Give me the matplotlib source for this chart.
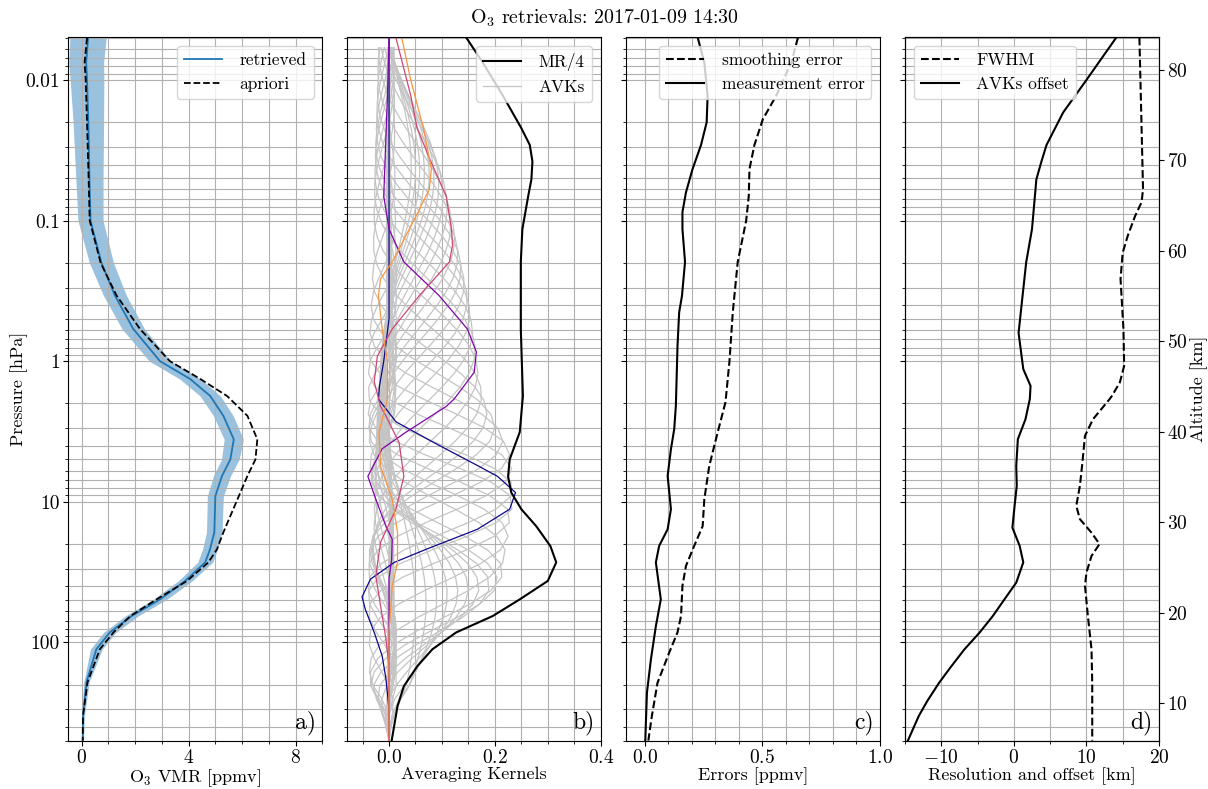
import numpy as np
import matplotlib
matplotlib.use("Agg")
import matplotlib.pyplot as plt
from matplotlib.ticker import MultipleLocator, FuncFormatter, NullFormatter, LogLocator

plt.rcParams['font.family'] = 'serif'
plt.rcParams['font.serif'] = ['cmr10']
plt.rcParams['mathtext.fontset'] = 'cm'
plt.rcParams['axes.formatter.use_mathtext'] = True

# ---- panel a: ozone profile (pressure in hPa, VMR in ppmv)
p_o3 = [0.005, 0.0075, 0.01, 0.02, 0.05, 0.1, 0.2, 0.34, 0.59, 1.0, 1.34, 1.77, 2.45, 3.6,
        5.0, 6.55, 9.1, 16.5, 21.8, 27, 36.6, 49.5, 65, 85, 112, 192, 334, 500]
o3_retrieved = [0.24, 0.17, 0.2, 0.25, 0.29, 0.33, 0.74, 1.24, 1.93, 2.93, 4.06, 4.81, 5.3, 5.69,
                5.56, 5.25, 5.0, 4.96, 4.8, 4.62, 3.87, 2.93, 1.87, 1.05, 0.55, 0.18, 0.05, 0.04]
o3_error = [0.68, 0.65, 0.63, 0.57, 0.51, 0.47, 0.45, 0.43, 0.42, 0.4, 0.39, 0.38, 0.37, 0.36,
            0.33, 0.32, 0.3, 0.29, 0.28, 0.28, 0.26, 0.25, 0.24, 0.23, 0.22, 0.1, 0.05, 0.03]
o3_apriori = [0.2, 0.11, 0.15, 0.2, 0.26, 0.3, 0.71, 1.3, 2.18, 3.3, 4.44, 5.44, 6.2, 6.57,
              6.5, 6.2, 5.88, 5.3, 5.06, 4.74, 3.94, 2.8, 1.82, 1.19, 0.68, 0.22, 0.05, 0.04]

# ---- panel b: measurement response / 4
p_mr = [0.005, 0.0075, 0.0129, 0.022, 0.029, 0.038, 0.051, 0.067, 0.115, 0.197, 0.59, 1.77,
        3.2, 5.0, 6.6, 8.6, 11.3, 14.9, 20.7, 27, 36.6, 49.5, 65, 85, 112, 147, 205, 285, 500]
mr_quarter = [0.146, 0.177, 0.215, 0.25, 0.266, 0.271, 0.269, 0.263, 0.252, 0.249, 0.249, 0.253,
              0.247, 0.228, 0.225, 0.231, 0.25, 0.278, 0.305, 0.316, 0.3, 0.247, 0.196, 0.127,
              0.082, 0.054, 0.028, 0.016, 0.005]

# highlighted kernels
p_avk_navy = [0.005, 0.1, 0.5, 1.0, 1.5, 1.86, 2.7, 3.8, 5.6, 6.6, 8.6, 11.3, 15.7, 21.8, 27,
              35.5, 47.5, 58, 85, 125, 180, 300, 500]
avk_navy = [0.0, 0.0, 0.0, -0.01, -0.018, -0.02, 0.013, 0.085, 0.17, 0.205, 0.239, 0.228, 0.167,
            0.07, 0.01, -0.035, -0.051, -0.045, -0.028, -0.013, -0.006, 0.0, 0.0]
p_avk_purple = [0.005, 0.013, 0.067, 0.115, 0.197, 0.343, 0.59, 0.86, 1.2, 1.86, 2.1, 3.2, 4.2,
                6.6, 9.6, 14.9, 18.5, 25.7, 35, 500]
avk_purple = [0.0, -0.003, -0.01, 0.0, 0.028, 0.095, 0.148, 0.165, 0.161, 0.123, 0.108, 0.032,
              -0.013, -0.04, -0.025, -0.006, 0.006, 0.005, 0.0, 0.0]
p_avk_crimson = [0.005, 0.0129, 0.022, 0.038, 0.067, 0.115, 0.15, 0.197, 0.343, 0.59, 0.92, 1.4,
                 2.1, 2.45, 3.8, 6.6, 11.3, 19.4, 33.7, 55, 94, 147, 500]
avk_crimson = [0.013, 0.041, 0.053, 0.079, 0.108, 0.118, 0.12, 0.114, 0.057, 0.006, -0.022, -0.028,
               -0.016, -0.006, 0.019, 0.028, 0.013, -0.016, -0.025, -0.016, -0.006, 0.0, 0.0]
p_avk_orange = [0.005, 0.01, 0.022, 0.043, 0.06, 0.087, 0.151, 0.197, 0.26, 0.343, 0.59, 1.0,
                1.86, 3.2, 5.6, 9.6, 16.5, 27, 40, 85, 500]
avk_orange = [0.024, 0.041, 0.065, 0.08, 0.076, 0.055, 0.022, 0.006, -0.016, -0.02, -0.013, -0.003,
              -0.003, -0.019, -0.016, 0.006, 0.016, 0.016, 0.006, 0.0, 0.0]

# remaining kernels: peak altitude [km], peak value, FWHM [km] read from the envelope
avk_peak_km = [20.5, 21, 21.5, 22, 22.3, 22.6, 22.8, 23, 23.5, 24.5, 26.5, 28.5, 30.5, 32, 33.6,
               35.7, 37.5, 39, 40.5, 42, 44, 46.5, 49, 51, 53, 54.6, 56.3, 58, 59.5, 61.3, 63,
               64.8, 66, 67.2, 67.9, 68.3, 68.6, 68.8, 69, 69.3]
avk_amp = [0.05, 0.07, 0.09, 0.11, 0.13, 0.15, 0.17, 0.19, 0.205, 0.215, 0.22, 0.225, 0.23, 0.235,
           0.235, 0.232, 0.228, 0.215, 0.2, 0.185, 0.175, 0.168, 0.163, 0.158, 0.153, 0.148,
           0.142, 0.136, 0.13, 0.124, 0.117, 0.11, 0.102, 0.094, 0.085, 0.076, 0.067, 0.058,
           0.05, 0.042]
avk_fwhm = [22, 20, 18, 16, 14, 12.5, 11.5, 10.5, 10, 10.2, 11, 10, 9, 8.8, 9.2, 9.5, 9.8, 10.5,
            11.5, 13, 14.5, 15, 15.2, 15.1, 15, 14.8, 14.8, 15, 15.4, 16, 16.8, 17.5, 17.8, 17.8,
            17.6, 17.5, 17.4, 17.3, 17.3, 17.3]

# ---- panel c: errors [ppmv]
p_meas = [0.005, 0.0075, 0.0129, 0.02, 0.029, 0.043, 0.063, 0.087, 0.115, 0.197, 0.343, 0.45,
          0.78, 2.08, 3.05, 4.23, 6.55, 11.3, 15.7, 20.6, 27, 49.5, 76.7, 132, 228, 500]
err_meas = [0.225, 0.253, 0.267, 0.263, 0.239, 0.203, 0.175, 0.16, 0.16, 0.171, 0.158, 0.146,
            0.139, 0.132, 0.125, 0.111, 0.097, 0.111, 0.097, 0.061, 0.047, 0.068, 0.047, 0.026,
            0.009, 0.002]
p_smooth = [0.005, 0.0075, 0.0129, 0.019, 0.029, 0.043, 0.067, 0.1, 0.197, 0.45, 1.0, 1.96, 3.2,
            5.56, 9.6, 14.9, 20.6, 28.6, 39.6, 65, 85, 118, 194, 334, 500]
err_smooth = [0.651, 0.623, 0.559, 0.502, 0.466, 0.445, 0.442, 0.431, 0.395, 0.374, 0.36, 0.343,
              0.31, 0.274, 0.253, 0.246, 0.21, 0.175, 0.16, 0.154, 0.139, 0.104, 0.054, 0.03,
              0.015]

# ---- panel d: resolution and offset [km]
p_fwhm = [0.005, 0.022, 0.06, 0.074, 0.093, 0.128, 0.169, 0.26, 0.59, 1.08, 1.42, 1.77, 1.86,
          2.59, 3.4, 5.56, 7.7, 10.7, 13.3, 16.6, 20, 24.3, 32, 39.6, 65, 112, 194, 500]
fwhm = [17.3, 17.6, 17.8, 17.6, 16.7, 15.7, 15.0, 14.7, 15.1, 15.2, 14.6, 13.5, 13.2, 10.9, 9.8,
        9.4, 9.1, 8.6, 9.1, 10.7, 11.8, 10.7, 10.0, 9.8, 10.2, 10.7, 10.8, 10.8]
p_offset = [0.005, 0.01, 0.017, 0.029, 0.038, 0.051, 0.067, 0.115, 0.198, 0.343, 0.63, 1.14, 1.5,
            1.86, 2.59, 3.59, 5.56, 7.7, 10.7, 15.3, 20.6, 27, 37.6, 49.5, 65, 85, 112, 150, 194,
            260, 334, 500]
avk_offset = [14.1, 10.0, 6.8, 4.5, 3.8, 3.1, 2.9, 2.5, 1.7, 1.2, 0.65, 1.3, 2.3, 2.2, 1.6, 0.55,
              0.33, 0.4, 0.1, -0.2, 0.8, 1.3, 0.33, -1.3, -2.9, -4.7, -6.8, -8.7, -10.3, -11.9,
              -13.1, -14.6]

TICK_FS = 14
LABEL_FS = 13
LEGEND_FS = 12.5

fig = plt.figure(figsize=(12.08, 7.89), dpi=100)
W, H = 1208.0, 789.0
bottom, top = 740.7, 37.3
lefts = [68.3, 346.7, 626.0, 905.0]
width = 254.0

axes = []
for i, l in enumerate(lefts):
    rect = [l / W, 1 - bottom / H, width / W, (bottom - top) / H]
    if i == 0:
        ax = fig.add_axes(rect)
    else:
        ax = fig.add_axes(rect, sharey=axes[0])
    axes.append(ax)
ax1, ax2, ax3, ax4 = axes

grid_kw = dict(color='#b0b0b0', lw=0.8)
leg_kw = dict(fontsize=LEGEND_FS, handlelength=2.2, handletextpad=1.0)

# a)
o3r = np.array(o3_retrieved)
o3e = np.array(o3_error)
ax1.fill_betweenx(p_o3, o3r - o3e, o3r + o3e, color='C0', alpha=0.45, lw=0)
ax1.plot(o3_retrieved, p_o3, color='C0', lw=1.3, label='retrieved')
ax1.plot(o3_apriori, p_o3, 'k--', lw=1.3, label='apriori')
ax1.set_xlim(-0.5, 9)
ax1.xaxis.set_major_locator(MultipleLocator(4))
ax1.xaxis.set_minor_locator(MultipleLocator(1))
ax1.set_xlabel('O$_3$ VMR [ppmv]')
ax1.set_ylabel('Pressure [hPa]', fontsize=LABEL_FS, labelpad=-2)
ax1.legend(loc='upper right', **leg_kw)

# b)
z_grid = np.arange(5.9, 83.8, 1.5)
p_grid = 10 ** ((47.76 - z_grid) / 15.54)
for c, a, w in zip(avk_peak_km, avk_amp, avk_fwhm):
    u = (z_grid - c) / (w / 1.207)
    k = a * np.sinc(u) * np.exp(-0.5 * (u / 2.0) ** 2) * np.clip((z_grid - 5.9) / 6.0, 0, 1)
    ax2.plot(k, p_grid, color='#c4c4c4', lw=0.9)
cmap = plt.get_cmap('plasma')
ax2.plot(avk_navy, p_avk_navy, color=cmap(0.0), lw=0.9)
ax2.plot(avk_purple, p_avk_purple, color=cmap(0.25), lw=0.9)
ax2.plot(avk_crimson, p_avk_crimson, color=cmap(0.5), lw=0.9)
ax2.plot(avk_orange, p_avk_orange, color=cmap(0.75), lw=0.9)
ax2.plot(mr_quarter, p_mr, 'k-', lw=1.5, label='MR/4')
ax2.plot([], [], color='#c4c4c4', lw=0.9, label='AVKs')
ax2.set_xlim(-0.08, 0.4)
ax2.xaxis.set_major_locator(MultipleLocator(0.2))
ax2.xaxis.set_minor_locator(MultipleLocator(0.05))
ax2.set_xlabel('Averaging Kernels')
ax2.legend(loc='upper right', **leg_kw)

# c)
ax3.plot(err_smooth, p_smooth, 'k--', lw=1.5, label='smoothing error')
ax3.plot(err_meas, p_meas, 'k-', lw=1.5, label='measurement error')
ax3.set_xlim(-0.08, 1.0)
ax3.xaxis.set_major_locator(MultipleLocator(0.5))
ax3.xaxis.set_minor_locator(MultipleLocator(0.1))
ax3.set_xlabel('Errors [ppmv]')
ax3.legend(loc='upper right', **leg_kw)

# d)
ax4.plot(fwhm, p_fwhm, 'k--', lw=1.5, label='FWHM')
ax4.plot(avk_offset, p_offset, 'k-', lw=1.5, label='AVKs offset')
ax4.set_xlim(-15, 20)
ax4.xaxis.set_major_locator(MultipleLocator(10))
ax4.xaxis.set_minor_locator(MultipleLocator(5))
ax4.set_xlabel('Resolution and offset [km]')
ax4.legend(loc='upper left', **leg_kw)

ax1.set_yscale('log')
ax1.set_ylim(501, 0.00497)
ax1.yaxis.set_major_locator(LogLocator(base=10))
ax1.yaxis.set_major_formatter(FuncFormatter(lambda v, pos: '%g' % v))
ax1.yaxis.set_minor_formatter(NullFormatter())

for ax, lab in zip(axes, ['a)', 'b)', 'c)', 'd)']):
    ax.grid(True, which='both', **grid_kw)
    ax.tick_params(labelsize=TICK_FS, pad=2.5)
    ax.xaxis.label.set_size(LABEL_FS)
    ax.xaxis.labelpad = 0
    ax.text(0.975, 0.008, lab, transform=ax.transAxes, ha='right', va='bottom', fontsize=17)
for ax in axes[1:]:
    ax.tick_params(labelleft=False)

ax4r = ax4.twinx()
ax4r.set_ylim(5.87, 83.6)
ax4r.yaxis.set_major_locator(MultipleLocator(10))
ax4r.tick_params(labelsize=TICK_FS, pad=2.5)
ax4r.set_ylabel('Altitude [km]', fontsize=LABEL_FS, labelpad=1.5)

fig.text(0.5, 1 - 18.0 / H, 'O$_3$ retrievals: 2017-01-09 14:30', fontsize=14.3,
         ha='center', va='center')

fig.savefig('out.png', dpi=100)
